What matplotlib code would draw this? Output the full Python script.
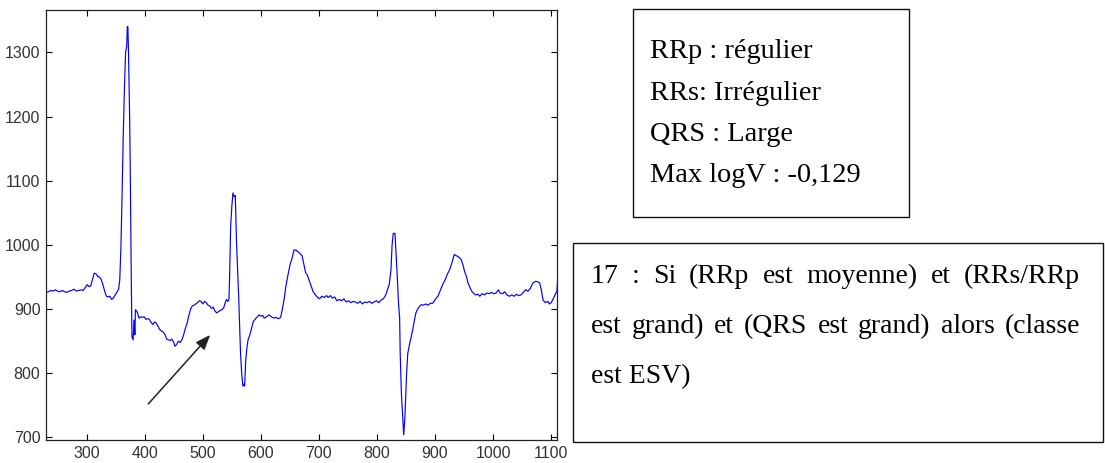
import matplotlib
matplotlib.use("Agg")
import matplotlib.pyplot as plt
from matplotlib.patches import Rectangle

# ECG trace (sample index, amplitude)
x_samples = [
    230, 234, 238, 242, 246, 250, 254, 258, 262, 266, 270, 274, 278, 282, 286, 290, 294, 298,
    301, 304, 307, 310, 313, 316, 319, 322, 325, 328, 331, 334, 337, 340, 343, 346, 349, 352,
    355, 357, 359, 361, 363, 365, 367, 369, 370, 371, 372, 374, 375, 376, 377, 378, 380, 381,
    382, 383, 384, 386, 388, 390, 393, 396, 399, 402, 405, 408, 411, 414, 417, 420, 423, 426,
    429, 432, 435, 438, 441, 444, 447, 450, 452, 455, 458, 461, 464, 467, 470, 473, 476, 479,
    482, 485, 488, 491, 494, 497, 500, 503, 506, 509, 512, 515, 518, 521, 524, 527, 530, 533,
    536, 539, 541, 543, 545, 546, 548, 550, 552, 554, 556, 557, 558, 560, 562, 564, 565, 567,
    569, 571, 572, 574, 576, 578, 581, 584, 587, 590, 593, 597, 600, 603, 606, 610, 614, 618,
    622, 626, 630, 634, 637, 640, 643, 646, 650, 654, 657, 660, 663, 667, 671, 674, 677, 680,
    684, 687, 690, 694, 698, 701, 705, 709, 713, 716, 720, 723, 727, 731, 735, 739, 743, 747,
    751, 755, 759, 763, 767, 771, 775, 779, 783, 787, 791, 795, 799, 803, 807, 811, 815, 818,
    821, 824, 826, 828, 831, 833, 835, 837, 839, 840, 842, 844, 846, 848, 849, 851, 853, 856,
    859, 862, 865, 867, 870, 874, 877, 880, 884, 888, 892, 896, 899, 902, 905, 909, 913, 917,
    921, 925, 929, 933, 937, 941, 945, 948, 951, 954, 957, 960, 963, 966, 970, 974, 977, 981,
    985, 989, 993, 997, 1001, 1005, 1009, 1012, 1016, 1020, 1024, 1028, 1032, 1036, 1040,
    1044, 1048, 1052, 1056, 1060, 1064, 1068, 1072, 1076, 1080, 1083, 1086, 1090, 1094, 1097,
    1100, 1104, 1108, 1110, 1111,
]
ecg_values = [
    926, 927, 929, 928, 930, 928, 927, 929, 927, 926, 928, 929, 931, 928, 929, 930, 929, 934,
    938, 935, 936, 946, 956, 955, 951, 950, 946, 938, 928, 920, 919, 920, 915, 917, 922, 926,
    931, 945, 995, 1078, 1169, 1241, 1300, 1309, 1340, 1340, 1304, 1200, 1127, 1030, 935, 857, 852, 870,
    883, 860, 899, 897, 893, 886, 888, 887, 888, 884, 885, 884, 879, 876, 880, 878, 873, 868,
    866, 864, 860, 853, 852, 851, 853, 848, 842, 845, 850, 848, 852, 860, 870, 878, 890, 900,
    905, 906, 908, 910, 913, 912, 908, 912, 910, 906, 905, 901, 903, 897, 894, 896, 898, 899,
    902, 911, 915, 912, 915, 943, 1029, 1060, 1081, 1075, 1077, 1040, 1007, 960, 914, 860, 831, 800,
    780, 783, 780, 821, 840, 852, 860, 870, 881, 884, 887, 891, 889, 890, 886, 888, 891, 888,
    886, 887, 885, 887, 900, 915, 935, 950, 968, 980, 992, 992, 990, 987, 983, 970, 957, 953,
    943, 935, 927, 922, 918, 916, 920, 918, 921, 918, 921, 917, 919, 913, 915, 913, 916, 911,
    913, 910, 912, 911, 909, 912, 908, 911, 910, 912, 909, 911, 913, 910, 914, 916, 922, 930,
    938, 960, 1000, 1018, 1018, 985, 950, 910, 886, 830, 769, 735, 704, 730, 754, 800, 831, 845,
    857, 870, 885, 894, 900, 905, 907, 906, 908, 906, 909, 909, 913, 917, 920, 929, 938, 945,
    954, 961, 972, 985, 983, 981, 977, 969, 958, 951, 940, 934, 928, 925, 922, 923, 920, 924,
    922, 925, 924, 926, 924, 925, 930, 925, 924, 927, 922, 920, 922, 920, 923,
    921, 922, 926, 930, 928, 932, 940, 943, 943, 941, 930, 914, 910, 912, 908,
    910, 917, 925, 928, 945,
]
x_ticks = [300, 400, 500, 600, 700, 800, 900, 1000, 1100]
y_ticks = [700, 800, 900, 1000, 1100, 1200, 1300]

info_lines = ["RRp : régulier", "RRs: Irrégulier", "QRS : Large", "Max logV : -0,129"]
rule_lines = ["17 : Si (RRp est moyenne) et (RRs/RRp",
              "est grand) et (QRS est grand) alors (classe",
              "est ESV)"]

W, H = 1105, 463
fig = plt.figure(figsize=(W / 100, H / 100), dpi=100)

ax = fig.add_axes([46 / W, 1 - 440 / H, (557 - 46) / W, (440 - 10) / H])
ax.plot(x_samples, ecg_values, color="#0000ff", lw=0.85)
ax.set_xlim(230, 1110)
ax.set_ylim(696, 1366)
ax.set_xticks(x_ticks)
ax.set_yticks(y_ticks)
ax.tick_params(direction="in", top=True, right=True, length=4, width=0.8,
               labelsize=11.5, labelcolor="#333333", pad=4)
for lab in ax.get_xticklabels() + ax.get_yticklabels():
    lab.set_family("Liberation Sans")
for sp in ax.spines.values():
    sp.set_color("#222222")
    sp.set_linewidth(0.9)

ax.annotate("", xy=(516, 863), xytext=(403, 749),
            arrowprops=dict(arrowstyle="-|>,head_length=0.9,head_width=0.35",
                            color="#222222", lw=1.1))

serif = "Liberation Serif"


def fig_box(x0, y0, x1, y1):
    # pixel coords from the top-left corner
    r = Rectangle((x0 / W, 1 - y1 / H), (x1 - x0) / W, (y1 - y0) / H,
                  transform=fig.transFigure, fill=False, ec="#111111", lw=1.0)
    fig.patches.append(r)


fig_box(633, 9, 909, 217)
fig_box(573, 243, 1103, 442)

for i, line in enumerate(info_lines):
    fig.text(650 / W, 1 - (58 + 41.5 * i) / H, line, family=serif, fontsize=20.4,
             va="baseline", ha="left")

renderer = fig.canvas.get_renderer()


def justified(line, x_left, x_right, y_base, justify=True):
    words = line.split(" ")
    if not justify:
        fig.text(x_left / W, 1 - y_base / H, line, family=serif, fontsize=20,
                 va="baseline", ha="left")
        return
    arts = [fig.text(0, 1 - y_base / H, w, family=serif, fontsize=20,
                     va="baseline", ha="left") for w in words]
    widths = [a.get_window_extent(renderer).width for a in arts]
    gap = (x_right - x_left - sum(widths)) / (len(words) - 1)
    x = x_left
    for a, w in zip(arts, widths):
        a.set_x(x / W)
        x += w + gap


justified(rule_lines[0], 591, 1080, 283)
justified(rule_lines[1], 591, 1080, 333)
justified(rule_lines[2], 591, 1080, 383, justify=False)

fig.savefig("out.png", dpi=100)
